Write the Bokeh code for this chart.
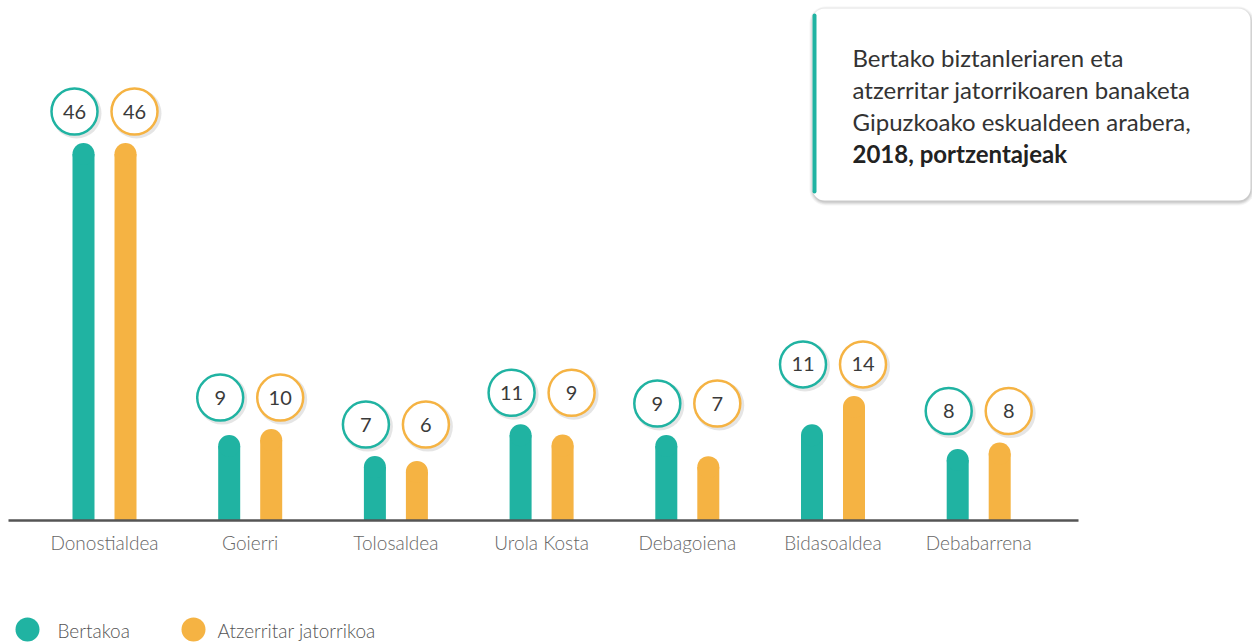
from bokeh.plotting import figure
from bokeh.models import Range1d
from bokeh.core.properties import value
from bokeh.embed import file_html
from bokeh.resources import INLINE

# ---------------- data ----------------
categories = ["Donostialdea", "Goierri", "Tolosaldea", "Urola Kosta",
              "Debagoiena", "Bidasoaldea", "Debabarrena"]
bertakoa = [46.0, 9.35, 6.7, 10.7, 9.35, 10.7, 7.6]
atzerritar = [46.0, 10.1, 6.1, 9.4, 6.7, 14.25, 8.4]
bertakoa_labels = ["46", "9", "7", "11", "9", "11", "8"]
atzerritar_labels = ["46", "10", "6", "9", "7", "14", "8"]
series_names = ["Bertakoa", "Atzerritar jatorrikoa"]
title_lines = ["Bertako biztanleriaren eta",
               "atzerritar jatorrikoaren banaketa",
               "Gipuzkoako eskualdeen arabera,"]
title_bold = "2018, portzentajeak"

TEAL = "#20B3A2"
ORANGE = "#F5B343"
LIGHT = value("'Lato Light', Lato")
REG = value("Lato")

# ---------------- geometry (page px -> data) ----------------
W, H = 1252, 642
SX = 145.7          # px per category
X0 = 104.0          # page px of first category centre
SY = 7.967          # px per percentage point
Y0 = 520.0          # page px of zero line


def px2x(px):
    return (px - X0) / SX


def px2y(py):
    return (Y0 - py) / SY


def dx(d):
    return d / SX


def dy(d):
    return d / SY


p = figure(width=W, height=H, output_backend="svg", toolbar_location=None,
           x_range=Range1d(px2x(0), px2x(W)),
           y_range=Range1d(px2y(H), px2y(0)),
           min_border=0, border_fill_color="white",
           background_fill_color="white")
p.outline_line_color = None
p.xaxis.visible = False
p.yaxis.visible = False
p.xgrid.visible = False
p.ygrid.visible = False

xs = list(range(len(categories)))
bar_off = dx(21)
lab_off = dx(30)
bar_w = dx(22)

# bars: butt-ended body + round cap
for vals, col, sgn in ((bertakoa, TEAL, -1), (atzerritar, ORANGE, 1)):
    bx = [x + sgn * bar_off for x in xs]
    p.vbar(x=bx, top=vals, bottom=0, width=bar_w, fill_color=col,
           line_color=None)
    p.scatter(x=bx, y=vals, size=22, marker="circle", fill_color=col,
              line_color=None)

# baseline
p.segment(x0=[px2x(8)], y0=[0], x1=[px2x(1078)], y1=[0],
          line_color="#555555", line_width=2.5)

# category labels
p.text(x=xs, y=[px2y(542)] * len(xs), text=categories,
       text_font=LIGHT, text_font_size="19px",
       text_color="#666666", text_align="center", text_baseline="middle")

# value bubbles
lab_y = [max(a, b) + dy(10.5 + 32) for a, b in zip(bertakoa, atzerritar)]
for labels, col, sgn in ((bertakoa_labels, TEAL, -1),
                         (atzerritar_labels, ORANGE, 1)):
    lx = [x + sgn * lab_off for x in xs]
    p.scatter(x=[v + dx(2) for v in lx], y=[v - dy(2) for v in lab_y],
              size=50, marker="circle", fill_color="#000000",
              fill_alpha=0.10, line_color=None)
    p.scatter(x=lx, y=lab_y, size=46, marker="circle", fill_color="white",
              line_color=col, line_width=2.5)
    p.text(x=lx, y=lab_y, text=labels, text_font=REG,
           text_font_size="20px", text_color="#3a3a3a",
           text_align="center", text_baseline="middle")

# legend
p.scatter(x=[px2x(27), px2x(193)], y=[px2y(629)] * 2, size=24,
          marker="circle", fill_color=[TEAL, ORANGE], line_color=None)
p.text(x=[px2x(57), px2x(217)], y=[px2y(630)] * 2, text=series_names,
       text_font=LIGHT, text_font_size="19px",
       text_color="#555555", text_align="left", text_baseline="middle")

# title box with shadow
for k, a in ((4, 0.04), (3, 0.05), (2, 0.06), (1, 0.07)):
    p.quad(left=[px2x(812 - k + 1)], right=[px2x(1250 + k)],
           top=[px2y(8 - k + 2)], bottom=[px2y(200 + k + 1)],
           fill_color="#000000", fill_alpha=a, line_color=None,
           border_radius=12 + k)
p.quad(left=[px2x(812)], right=[px2x(1250)], top=[px2y(8)],
       bottom=[px2y(200)], fill_color="white", line_color=None,
       border_radius=12)
p.quad(left=[px2x(812)], right=[px2x(816)], top=[px2y(13)],
       bottom=[px2y(193)], fill_color=TEAL, line_color=None,
       border_radius=2)
p.text(x=[px2x(852)] * 3, y=[px2y(57), px2y(89), px2y(121)],
       text=title_lines, text_font=REG, text_font_size="24px",
       text_color="#333333", text_align="left",
       text_baseline="middle")
p.text(x=[px2x(852)], y=[px2y(153)], text=[title_bold],
       text_font=REG, text_font_size="24px",
       text_font_style="bold", text_color="#222222", text_align="left",
       text_baseline="middle")

html = file_html(p, INLINE)
html = html.replace("<head>",
                    "<head><style>html,body{overflow:hidden;}</style>", 1)
open("out.html", "w").write(html)
